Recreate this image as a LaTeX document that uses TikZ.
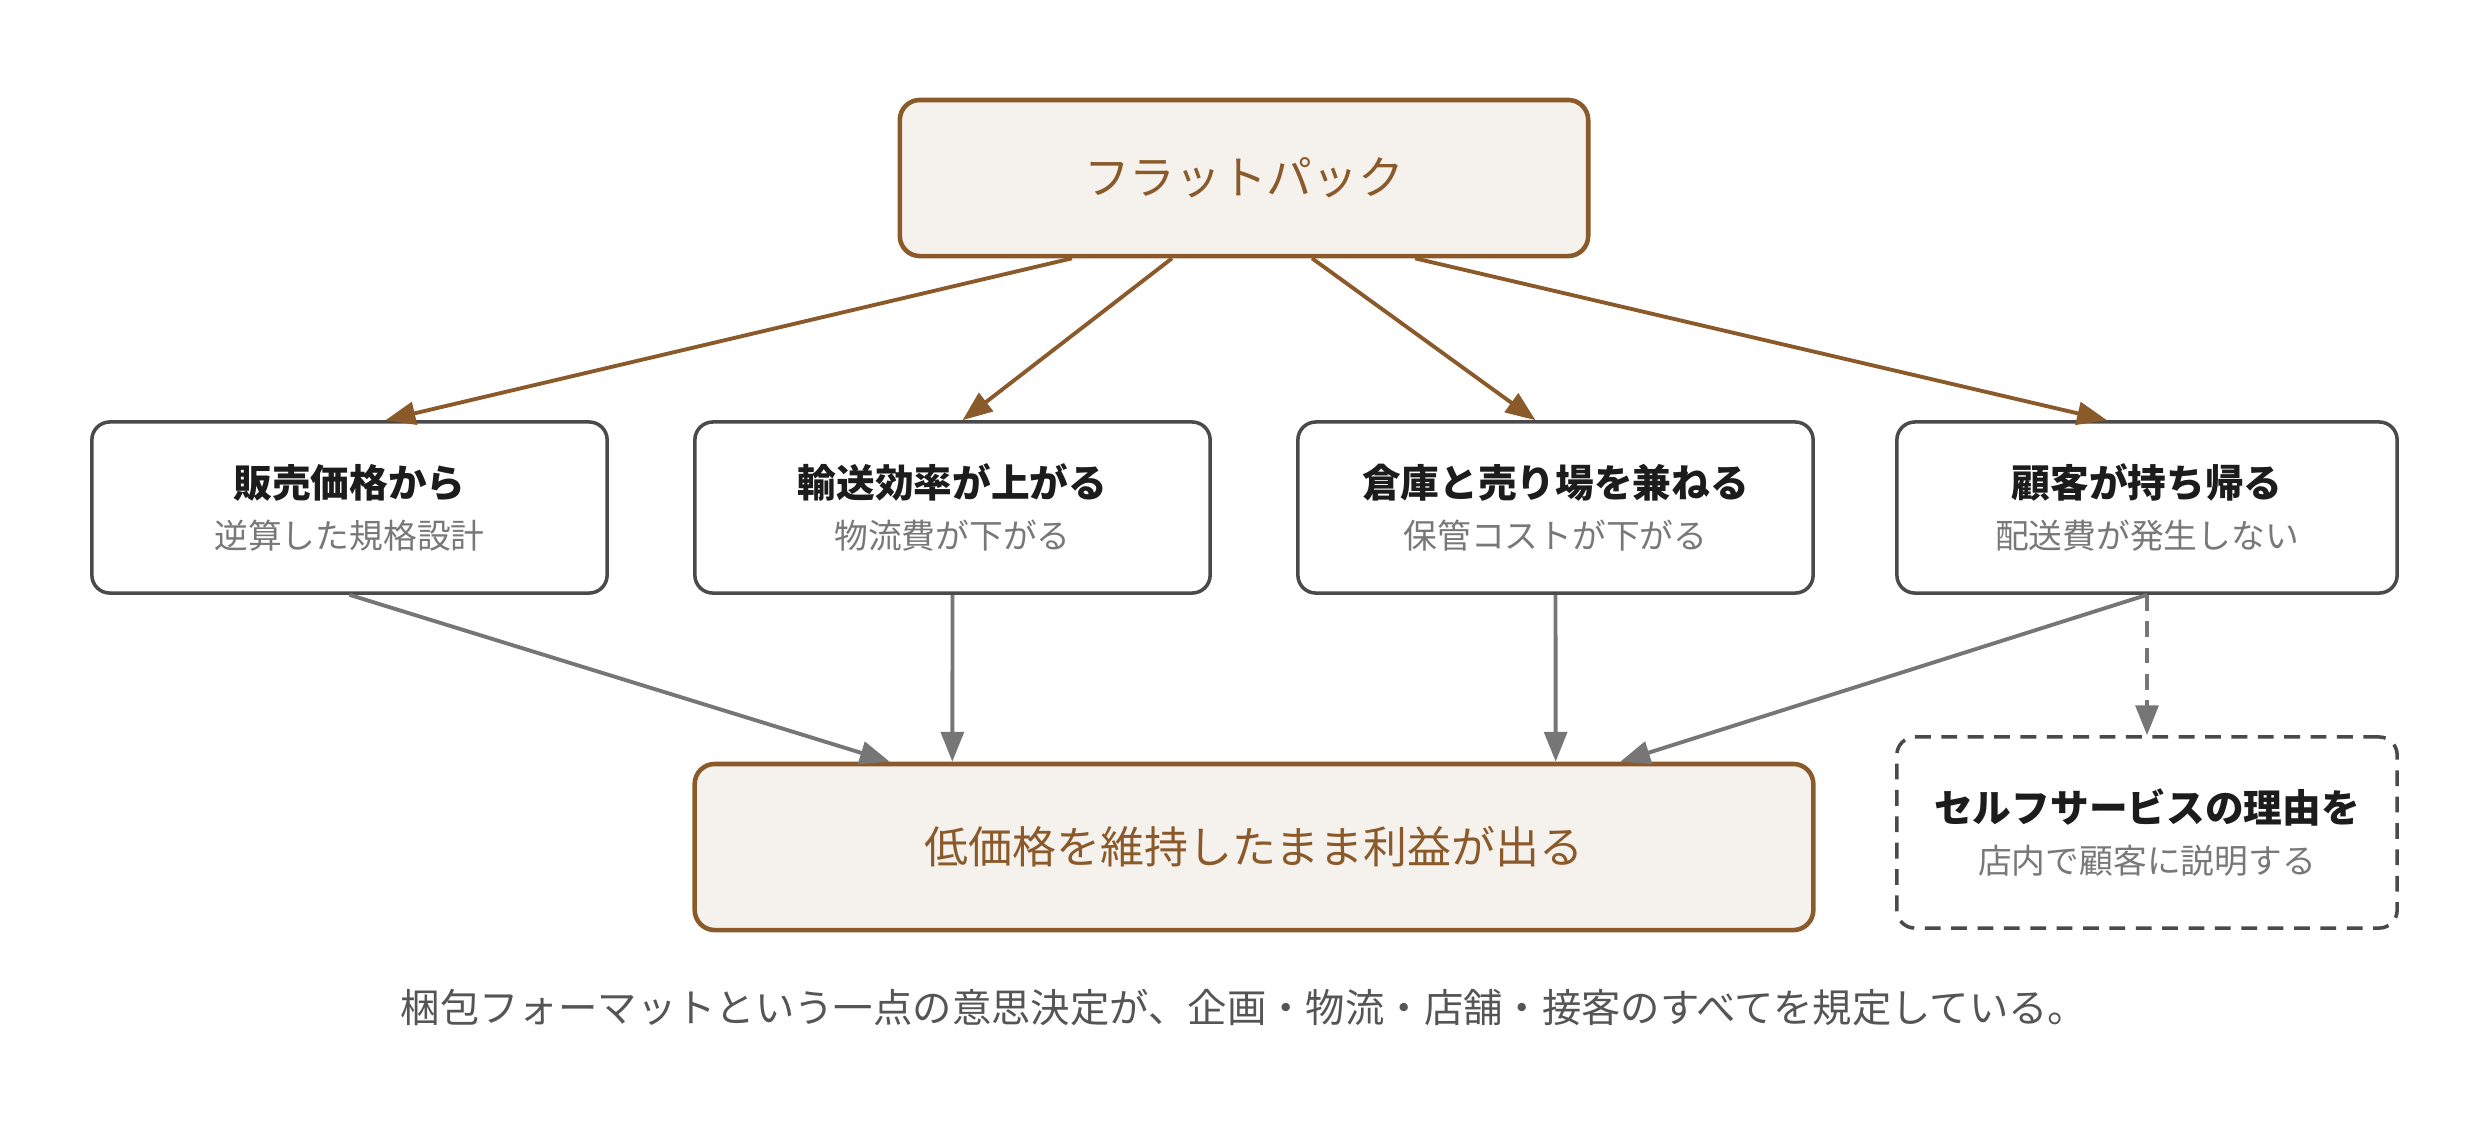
\documentclass[tikz,border=0pt]{standalone}
\usepackage{fontspec}
\setmainfont{Noto Sans CJK JP}
\usetikzlibrary{arrows.meta}
\definecolor{flatbrown}{RGB}{139,90,43}
\definecolor{cream}{RGB}{245,242,237}
\definecolor{boxgray}{RGB}{74,74,74}
\definecolor{arrowgray}{RGB}{118,118,118}
\definecolor{subgray}{RGB}{120,120,120}
\definecolor{capgray}{RGB}{85,85,85}
\definecolor{inkblack}{RGB}{28,28,28}
\newcommand{\subline}[1]{{\fontsize{9.6}{12}\selectfont\color{subgray}#1}}
\begin{document}
\begin{tikzpicture}[x=0.01cm,y=-0.01cm,
  keybox/.style={draw=flatbrown,line width=1.3pt,fill=cream,rounded corners=0.2cm,text=flatbrown,font=\fontsize{13}{16}\selectfont},
  factor/.style={draw=boxgray,line width=1pt,fill=white,rounded corners=0.18cm,minimum width=5.15cm,minimum height=1.71cm,align=center,text=inkblack,font=\fontsize{11}{14.5}\selectfont},
  brownarrow/.style={draw=flatbrown,line width=1.1pt,-{Triangle[length=8.5pt,width=6.5pt]}},
  grayarrow/.style={draw=arrowgray,line width=1.1pt,-{Triangle[length=8.5pt,width=6.5pt]}}]
\useasboundingbox (0,0) rectangle (2488,1132);
\node[keybox,minimum width=6.88cm,minimum height=1.56cm] (flat) at (1244,178) {フラットパック};
\node[factor] (price) at (349.5,507.5) {\textbf{販売価格から}\\\subline{逆算した規格設計}};
\node[factor] (ship) at (952.5,507.5) {\textbf{輸送効率が上がる}\\\subline{物流費が下がる}};
\node[factor] (store) at (1555.5,507.5) {\textbf{倉庫と売り場を兼ねる}\\\subline{保管コストが下がる}};
\node[factor,minimum width=5cm] (carry) at (2147,507.5) {\textbf{顧客が持ち帰る}\\\subline{配送費が発生しない}};
\node[keybox,minimum width=11.18cm,minimum height=1.66cm,font=\fontsize{12.5}{15}\selectfont] (profit) at (1254,847) {低価格を維持したまま利益が出る};
\node[factor,minimum width=5cm,minimum height=1.91cm,dash pattern=on 4.5pt off 3pt] (self) at (2147,832.5) {\textbf{セルフサービスの理由を}\\\subline{店内で顧客に説明する}};
\node[text=capgray,font=\fontsize{11.2}{14}\selectfont] (note) at (1244,1007) {梱包フォーマットという一点の意思決定が、企画・物流・店舗・接客のすべてを規定している。};
% from the flat pack to the four effects
\draw[brownarrow] ([xshift=-1.72cm]flat.south) -- ([xshift=0.36cm]price.north);
\draw[brownarrow] ([xshift=-0.72cm]flat.south) -- ([xshift=0.1cm]ship.north);
\draw[brownarrow] ([xshift=0.68cm]flat.south) -- ([xshift=-0.2cm]store.north);
\draw[brownarrow] ([xshift=1.71cm]flat.south) -- ([xshift=-0.4cm]carry.north);
% effects to the result
\draw[grayarrow] (price.south) -- ([xshift=-3.64cm]profit.north);
\draw[grayarrow] (ship.south) -- ([xshift=-3.015cm]profit.north);
\draw[grayarrow] (store.south) -- ([xshift=3.015cm]profit.north);
\draw[grayarrow] (carry.south) -- ([xshift=3.66cm]profit.north);
\draw[grayarrow,dash pattern=on 4.5pt off 3pt] (carry.south) -- (self.north);
\end{tikzpicture}
\end{document}
